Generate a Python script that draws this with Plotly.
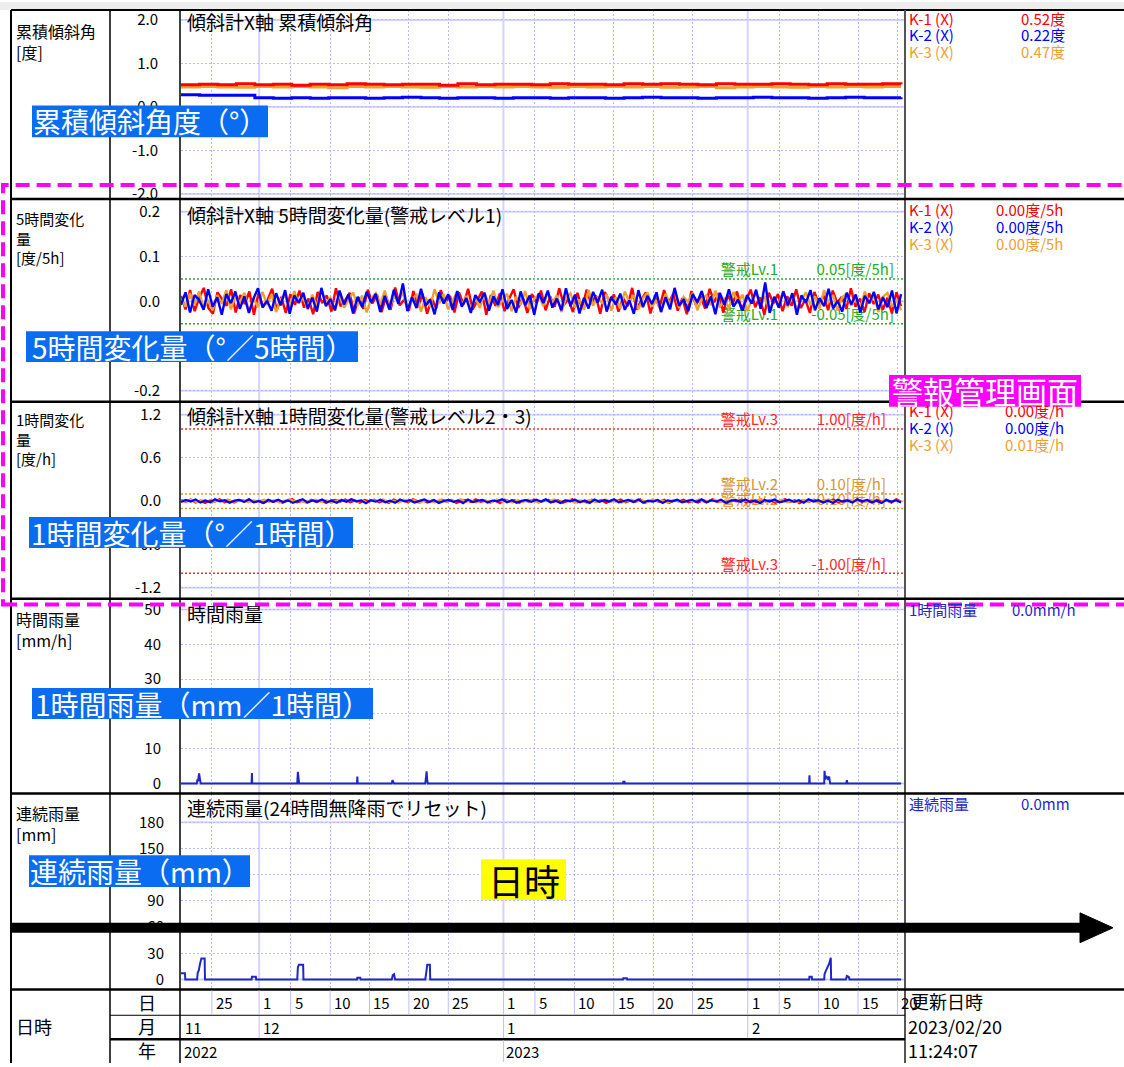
import numpy as np
import pandas as pd
import plotly.graph_objects as go

W, H = 1124, 1067
JP = "Noto Sans CJK JP"

# ---------------- data ----------------
x_range = ["2022-11-21 02:00", "2023-02-20 20:00"]
t_start = "2022-11-21 02:00"
t_end = "2023-02-20 11:00"

series_names = ["K-1 (X)", "K-2 (X)", "K-3 (X)"]
series_colors = ["#FF0000", "#0000FF", "#F0A030"]

# cumulative tilt [deg]
cum_k1 = [0.51, 0.52, 0.51, 0.53, 0.51, 0.52, 0.50, 0.52, 0.51, 0.53, 0.52, 0.51, 0.52, 0.52, 0.50, 0.53,
          0.51, 0.52, 0.52, 0.51, 0.53, 0.52, 0.52, 0.51, 0.53, 0.52, 0.53, 0.52, 0.51, 0.53, 0.52, 0.52,
          0.53, 0.52, 0.51, 0.53, 0.52, 0.52, 0.53, 0.52]
cum_k2 = [0.28, 0.27, 0.27, 0.27, 0.21, 0.20, 0.21, 0.20, 0.21, 0.21, 0.20, 0.21, 0.22, 0.21, 0.20, 0.21,
          0.21, 0.20, 0.21, 0.21, 0.20, 0.21, 0.21, 0.20, 0.21, 0.22, 0.21, 0.21, 0.20, 0.21, 0.21, 0.22,
          0.21, 0.21, 0.20, 0.21, 0.22, 0.21, 0.21, 0.22]
cum_k3 = [0.46, 0.47, 0.46, 0.45, 0.47, 0.46, 0.47, 0.46, 0.44, 0.47, 0.46, 0.47, 0.46, 0.45, 0.47, 0.46,
          0.47, 0.46, 0.47, 0.46, 0.45, 0.47, 0.46, 0.47, 0.46, 0.47, 0.45, 0.46, 0.47, 0.44, 0.46, 0.47,
          0.46, 0.45, 0.47, 0.46, 0.47, 0.46, 0.47, 0.47]
cum_now = [0.52, 0.22, 0.47]

# 5-hour change [0.001 deg]
chg5_k1 = [12, -18, 25, -22, 8, 30, -15, -28, 20, 5, -10, 27, -25, 14, -6, 22, -30, 18, -12, 3, 28, -20, 10, -26,
           16, -8, 24, -14, 6, -29, 21, -4, 13, -23, 29, -11, 2, 19, -27, 9, -17, 26, -5, 15, -24, 11, -19, 31,
           -9, 4, -21, 23, -13, 17, -28, 7, -16, 25, -2, 12, -25, 20, -7, 28, -18, 1, 22, -30, 14, -10, 18, -22,
           6, 27, -15, 9, -26, 16, -3, 24, -20, 11, -12, 29, -8, 5, -24, 19, -17, 26, -6, 13, -28, 21, -1, 15,
           -23, 8, -11, 30, -19, 3, 20, -27, 10, -14, 25, -4, 17, -21, 7, -29, 23, -9, 12, -16, 28, -2, 18, -25,
           14, -7, 22, -18, 2, 26, -13, 9, -30, 19, -5, 16, -22, 11, -10, 27, -15, 4, -26, 21, -8, 13, -20, 24,
           -3, 10, -17, 29, -12, 6, -24, 18, -6, 15, -19, 8, -27, 20, -11]
chg5_k2 = [-8, 20, -25, 14, 3, -19, 27, -12, 9, -30, 16, -4, 22, -17, 11, -26, 6, 29, -14, 1, -21, 18, -9, 25,
           -28, 13, -3, 19, -16, 8, -23, 30, -11, 5, -20, 24, -7, 15, -27, 10, -13, 21, -2, 17, -24, 12, -18, 26,
           -6, 40, -22, 9, -15, 28, -10, 4, -29, 20, -5, 16, -19, 23, -12, 7, -26, 14, -1, 19, -21, 11, -8, 27,
           -17, 3, -25, 22, -9, 13, -30, 18, -4, 24, -14, 6, -20, 29, -11, 15, -27, 8, -16, 21, -3, 26, -23, 10,
           -7, 17, -19, 2, -28, 25, -13, 12, -6, 20, -24, 9, -18, 30, -10, 5, -22, 16, -2, 23, -15, 11, -29, 19,
           -8, 27, -12, 4, -21, 14, -5, 26, -17, 42, -26, 10, -14, 22, -9, 18, -30, 13, -3, 25, -20, 7, -11, 28,
           -16, 1, -23, 19, -7, 15, -25, 12, -4, 21, -18, 9, -13, 24, -27, 16]
chg5_k3 = [5, -12, 18, -9, 22, -15, 3, -20, 14, -6, 25, -18, 10, -2, 19, -22, 7, -13, 21, -8, 16, -24, 4, 12,
           -17, 23, -5, 9, -19, 15, -11, 26, -3, 8, -21, 17, -14, 2, 20, -10, 13, -25, 6, 18, -7, 24, -16, 11,
           -1, 21, -19, 5, 14, -23, 9, -12, 27, -4, 16, -18, 3, 22, -9, 12, -20, 8, -15, 19, -6, 24, -13, 1,
           17, -22, 10, -8, 23, -17, 6, 15, -11, 20, -3, 13, -24, 7, 18, -14, 4, -19, 25, -10, 11, -5, 16, -21,
           9, -16, 22, -2, 14, -18, 6, 20, -12, 3, -23, 17, -7, 26, -15, 10, -1, 19, -20, 5, 13, -9, 24, -14,
           8, -17, 21, -4, 15, -22, 2, 18, -11, 12, -25, 7, -6, 23, -13, 16, -19, 4, 20, -8, 11, -16, 25, -3,
           14, -21, 9, 17, -10, 6, -18, 22, -5, 13, -24, 10, 19, -12, 3, -20]
chg5_now = [0.00, 0.00, 0.00]

# 1-hour change [0.001 deg]
chg1_k1 = [15, -10, 22, -18, 6, -25, 12, -4, 28, -15, 9, -20, 17, -7, 24, -12, 3, -27, 19, -9, 14, -22, 8, 26,
           -16, 2, -19, 21, -11, 13, -24, 7, 18, -6, 25, -14, 10, -21, 16, -3, 20, -17, 5, -26, 23, -8, 11, -15,
           27, -2, 14, -20, 9, -12, 22, -5, 17, -24, 4, 19, -13, 26, -9, 6, -18, 12, -28, 21, -1, 15, -23, 10,
           -7, 24, -16, 3, 18, -11, 13, -22, 8, 27, -14, 5, -19, 20, -6, 16, -25, 11, -3, 23, -17, 9, -10, 25,
           -21, 2, 14, -8, 19, -26, 12, -4, 22, -15, 7, -20, 17, -9, 28, -12, 4, -24, 15, -1, 21, -18, 10, -13,
           24, -6, 18, -22, 3, 26, -11, 13, -27, 8, -5, 20, -16, 11, -2, 23, -19, 6, 16, -10, 25, -14, 9, -23,
           19, -7, 12, -20, 27, -3]
chg1_k2 = [-12, 18, -6, 24, -20, 9, -15, 27, -3, 13, -22, 7, 19, -10, 25, -17, 4, -26, 16, -8, 21, -13, 11, -24,
           2, 28, -18, 10, -5, 23, -14, 6, -21, 17, -9, 26, -2, 12, -27, 15, -7, 20, -16, 8, -23, 22, -4, 14,
           -19, 5, 25, -11, 17, -25, 3, 19, -8, 11, -28, 24, -13, 6, 18, -20, 9, -1, 27, -15, 13, -22, 4, 16,
           -10, 21, -6, 26, -18, 7, -24, 12, -3, 20, -14, 10, -26, 23, -9, 15, -5, 28, -17, 2, 18, -12, 24, -21,
           8, -7, 16, -25, 11, -2, 22, -16, 5, 19, -11, 27, -19, 13, -4, 21, -23, 6, 14, -8, 25, -13, 9, -27,
           17, -6, 23, -15, 1, 20, -10, 12, -22, 26, -4, 15, -18, 8, -24, 19, -7, 11, -20, 24, -1, 16, -14, 6,
           -26, 21, -9, 13, -17]
chg1_k3 = [8, -5, 20, -14, 12, 3, -18, 16, -7, 24, -10, 6, 19, -16, 11, -2, 22, -12, 14, -20, 9, 25, -6, 17,
           -15, 4, 21, -9, 13, -22, 7, 18, -4, 26, -13, 10, -17, 15, 1, 23, -11, 8, -19, 20, -3, 14, -24, 12,
           5, -15, 22, -8, 16, -1, 27, -12, 9, -20, 18, 2, -14, 24, -6, 11, -18, 15, -9, 21, 3, -16, 13, -4,
           25, -11, 7, 19, -21, 10, -2, 17, -13, 6, 23, -9, 14, -19, 4, 20, -7, 12, -16, 26, -3, 9, -22, 18,
           1, -12, 15, -5, 24, -14, 8, 21, -10, 3, -17, 19, -6, 13, -20, 11, 27, -8, 16, -2, 22, -15, 5, -11,
           18, -4, 14, -23, 10, 25, -9, 7, -18, 20, -1, 12, -13, 17, 6, -21, 23, -7, 15, -10]
chg1_now = [0.00, 0.00, 0.01]

lv1 = 0.05
lv2 = 0.10
lv3 = 1.00

# hourly rainfall [mm/h]
rain_h_time = ["2022-11-21 02:00",
               "2022-11-23 02:00", "2022-11-23 04:00", "2022-11-23 06:00", "2022-11-23 09:00", "2022-11-23 12:00", "2022-11-23 14:00",
               "2022-11-30 01:00", "2022-11-30 02:00", "2022-11-30 03:00",
               "2022-12-05 20:00", "2022-12-05 22:00", "2022-12-06 00:00", "2022-12-06 02:00",
               "2022-12-13 10:00", "2022-12-13 11:00", "2022-12-13 12:00",
               "2022-12-17 20:00", "2022-12-17 22:00", "2022-12-18 01:00", "2022-12-18 03:00",
               "2022-12-22 02:00", "2022-12-22 04:00", "2022-12-22 06:00", "2022-12-22 08:00", "2022-12-22 10:00",
               "2023-01-16 04:00", "2023-01-16 05:00", "2023-01-16 09:00", "2023-01-16 10:00",
               "2023-02-08 19:00", "2023-02-08 20:00", "2023-02-08 21:00",
               "2023-02-10 17:00", "2023-02-10 18:00", "2023-02-10 20:00", "2023-02-10 23:00", "2023-02-11 04:00", "2023-02-11 08:00", "2023-02-11 11:00",
               "2023-02-13 12:00", "2023-02-13 14:00", "2023-02-13 16:00",
               "2023-02-20 11:00"]
rain_h_val = [0,
              0, 1.2, 0.6, 2.9, 1.0, 0,
              0, 3.0, 0,
              0, 3.4, 1.5, 0,
              0, 2.0, 0,
              0, 1.0, 0.4, 0,
              0, 1.5, 3.5, 0.8, 0,
              0, 0.5, 0.5, 0,
              0, 2.4, 0,
              0, 3.7, 1.2, 2.2, 1.4, 2.0, 0,
              0, 1.0, 0,
              0]
rain_h_now = 0.0

# continuous rainfall [mm]
rain_c_time = ["2022-11-21 02:00", "2022-11-21 14:00", "2022-11-21 15:00",
               "2022-11-23 03:00", "2022-11-23 05:00", "2022-11-23 08:00", "2022-11-23 12:00", "2022-11-23 16:00", "2022-11-24 02:00", "2022-11-24 03:00",
               "2022-11-30 01:00", "2022-11-30 02:00", "2022-11-30 14:00", "2022-11-30 15:00",
               "2022-12-05 20:00", "2022-12-05 22:00", "2022-12-06 01:00", "2022-12-06 14:00", "2022-12-06 15:00",
               "2022-12-13 10:00", "2022-12-13 11:00", "2022-12-13 20:00", "2022-12-13 21:00",
               "2022-12-17 20:00", "2022-12-17 23:00", "2022-12-18 03:00", "2022-12-18 06:00",
               "2022-12-22 02:00", "2022-12-22 05:00", "2022-12-22 08:00", "2022-12-22 16:00", "2022-12-22 17:00",
               "2023-01-16 04:00", "2023-01-16 05:00", "2023-01-16 16:00", "2023-01-16 17:00",
               "2023-02-08 19:00", "2023-02-08 20:00", "2023-02-09 03:00", "2023-02-09 04:00",
               "2023-02-10 17:00", "2023-02-10 18:00", "2023-02-10 21:00", "2023-02-11 08:00", "2023-02-11 13:00", "2023-02-11 14:00",
               "2023-02-13 11:00", "2023-02-13 14:00", "2023-02-13 20:00", "2023-02-13 22:00",
               "2023-02-20 11:00"]
rain_c_val = [7, 7, 0,
              0, 8, 10, 18, 24, 24, 0,
              0, 3, 3, 0,
              0, 14, 17, 17, 0,
              0, 2, 2, 0,
              0, 5, 6, 0,
              0, 8, 17, 17, 0,
              0, 1.5, 1.5, 0,
              0, 3, 3, 0,
              0, 6, 9, 18, 25, 0,
              0, 4, 3, 0,
              0]
rain_c_now = 0.0

# date axis labels
day_ticks = ["2022-11-25", "2022-12-01", "2022-12-05", "2022-12-10", "2022-12-15", "2022-12-20", "2022-12-25",
             "2023-01-01", "2023-01-05", "2023-01-10", "2023-01-15", "2023-01-20", "2023-01-25",
             "2023-02-01", "2023-02-05", "2023-02-10", "2023-02-15", "2023-02-20"]
day_labels = ["25", "1", "5", "10", "15", "20", "25", "1", "5", "10", "15", "20", "25", "1", "5", "10", "15", "20"]
month_starts = ["2022-12-01", "2023-01-01", "2023-02-01"]
month_label_pos = ["2022-11-21 02:00", "2022-12-01", "2023-01-01", "2023-02-01"]
month_labels = ["11", "12", "1", "2"]
year_label_pos = ["2022-11-21 02:00", "2023-01-01"]
year_labels = ["2022", "2023"]
update_date = "2023/02/20"
update_time = "11:24:07"

panel_titles = ["傾斜計X軸 累積傾斜角", "傾斜計X軸 5時間変化量(警戒レベル1)", "傾斜計X軸 1時間変化量(警戒レベル2・3)",
                "時間雨量", "連続雨量(24時間無降雨でリセット)"]
left_labels = ["累積傾斜角<br>[度]", "5時間変化<br>量<br>[度/5h]", "1時間変化<br>量<br>[度/h]", "時間雨量<br>[mm/h]", "連続雨量<br>[mm]"]
tick_vals = [[2, 1, 0, -1, -2], [0.2, 0.1, 0, -0.1, -0.2], [1.2, 0.6, 0, -0.6, -1.2],
             [50, 40, 30, 20, 10, 0], [180, 150, 120, 90, 60, 30, 0]]
tick_text = [["2.0", "1.0", "0.0", "-1.0", "-2.0"], ["0.2", "0.1", "0.0", "-0.1", "-0.2"],
             ["1.2", "0.6", "0.0", "-0.6", "-1.2"], ["50", "40", "30", "20", "10", "0"],
             ["180", "150", "120", "90", "60", "30", "0"]]
solid_vals = [[2, 0, -2], [0.2, 0, -0.2], [1.2, 0, -1.2], [50, 0], [180, 0]]

# ---------------- layout geometry (pixels) ----------------
PX_L, PX_R = 181, 904
panels = [(8, 198), (198, 402), (402, 600), (600, 796), (796, 993)]
calib = [(2.0, 18, -2.0, 193), (0.2, 211, -0.2, 391), (1.2, 415, -1.2, 589), (50, 611, 0, 786), (180, 825, 0, 983)]
standoff = [22, 20, 19, 19, 16]

GRID = "rgb(185,185,245)"
GRID_SOLID = "rgb(212,212,255)"
RAIN = "rgb(30,40,200)"
LV1C = "rgb(40,170,40)"
LV2C = "rgb(215,150,50)"
LV3C = "rgb(255,40,40)"
BLUEBOX = "#0A6CF0"


def fx(p):
    return p / W


def fy(p):
    return 1 - p / H


x0d = pd.Timestamp(x_range[0])
x1d = pd.Timestamp(x_range[1])


def px_date(p):
    return x0d + (p - PX_L) / (PX_R - PX_L) * (x1d - x0d)


fig = go.Figure()
layout = {}
for i in range(5):
    k = "" if i == 0 else str(i + 1)
    top, bot = panels[i]
    va, pa, vb, pb = calib[i]
    s = (va - vb) / (pb - pa)
    ymax = va + (pa - top) * s
    ymin = vb - (bot - pb) * s
    layout["xaxis" + k] = dict(domain=[fx(PX_L), fx(PX_R)], range=x_range, type="date", anchor="y" + k,
                               showticklabels=False, ticks="", showline=False, zeroline=False,
                               showgrid=True, gridcolor=GRID, griddash="2px,2px", gridwidth=1,
                               tickmode="array", tickvals=[d for d in day_ticks if d not in month_starts])
    layout["yaxis" + k] = dict(domain=[fy(bot), fy(top)], range=[ymin, ymax], anchor="x" + k,
                               tickmode="array", tickvals=tick_vals[i], ticktext=tick_text[i],
                               showgrid=True, gridcolor=GRID, griddash="2px,2px", gridwidth=1,
                               zeroline=False, showline=False, ticks="", ticklabelstandoff=standoff[i],
                               tickfont=dict(size=15, color="black", family=JP))

shapes = []
ann = []


def pline(x0, y0, x1, y1, w=2, color="black", layer="above", dash=None):
    d = dict(type="line", xref="paper", yref="paper", x0=fx(x0), y0=fy(y0), x1=fx(x1), y1=fy(y1),
             line=dict(color=color, width=w), layer=layer)
    if dash:
        d["line"]["dash"] = dash
    shapes.append(d)


def text(xp, yp, s, size=14, color="black", xanchor="left", yanchor="middle", family=JP):
    ann.append(dict(x=fx(xp), y=fy(yp), xref="paper", yref="paper", text=s, showarrow=False, align="left",
                    xanchor=xanchor, yanchor=yanchor, font=dict(size=size, color=color, family=family)))


# solid grid lines (month starts / main values)
for i in range(5):
    k = "" if i == 0 else str(i + 1)
    for m in month_starts:
        shapes.append(dict(type="line", xref="x" + k, yref="y" + k + " domain", x0=m, x1=m, y0=0, y1=1,
                           line=dict(color=GRID_SOLID, width=2), layer="below"))
    for v in solid_vals[i]:
        shapes.append(dict(type="line", xref="x" + k + " domain", yref="y" + k, x0=0, x1=1, y0=v, y1=v,
                           line=dict(color=GRID_SOLID, width=2), layer="below"))

# threshold lines
for yk, val, col in [("y2", lv1, LV1C), ("y2", -lv1, LV1C), ("y3", lv3, LV3C), ("y3", -lv3, LV3C),
                     ("y3", lv2, LV2C), ("y3", -lv2, LV2C)]:
    xk = "x" + yk[1:]
    shapes.append(dict(type="line", xref=xk + " domain", yref=yk, x0=0, x1=1, y0=val, y1=val,
                       line=dict(color=col, width=1.5, dash="2px,2px"), layer="below"))


# threshold labels (drawn beneath data)
def thr_label(xk, yk, val, name, unit, col):
    fig.add_trace(go.Scatter(x=[px_date(778), px_date(894 if unit == "度/5h" else 886)], y=[val, val],
                             mode="text", text=[name, f"{val:.2f}[{unit}]"], textposition="top left",
                             textfont=dict(color=col, size=15, family=JP), xaxis=xk, yaxis=yk,
                             showlegend=False, hoverinfo="skip", cliponaxis=False))


thr_label("x2", "y2", lv1, "警戒Lv.1", "度/5h", LV1C)
thr_label("x2", "y2", -lv1, "警戒Lv.1", "度/5h", LV1C)
thr_label("x3", "y3", lv3, "警戒Lv.3", "度/h", LV3C)
thr_label("x3", "y3", -lv3, "警戒Lv.3", "度/h", LV3C)
thr_label("x3", "y3", lv2, "警戒Lv.2", "度/h", LV2C)
thr_label("x3", "y3", -lv2, "警戒Lv.2", "度/h", LV2C)

# ---------------- data traces ----------------
for vals, col in zip([cum_k3, cum_k2, cum_k1], [series_colors[2], series_colors[1], series_colors[0]]):
    t = pd.date_range(t_start, t_end, periods=len(vals))
    fig.add_trace(go.Scatter(x=t, y=vals, mode="lines", line=dict(color=col, width=3, shape="hv"),
                             xaxis="x", yaxis="y", showlegend=False, hoverinfo="skip"))

for ax, lists, lw in [("2", [chg5_k1, chg5_k3, chg5_k2], 2.4), ("3", [chg1_k1, chg1_k3, chg1_k2], 2.2)]:
    for vals, col in zip(lists, [series_colors[0], series_colors[2], series_colors[1]]):
        t = pd.date_range(t_start, t_end, periods=len(vals))
        fig.add_trace(go.Scatter(x=t, y=np.array(vals) / 1000.0, mode="lines", line=dict(color=col, width=lw),
                                 xaxis="x" + ax, yaxis="y" + ax, showlegend=False, hoverinfo="skip"))

fig.add_trace(go.Scatter(x=pd.to_datetime(rain_h_time), y=rain_h_val, mode="lines", line=dict(color=RAIN, width=2),
                         xaxis="x4", yaxis="y4", showlegend=False, hoverinfo="skip"))
fig.add_trace(go.Scatter(x=pd.to_datetime(rain_c_time), y=rain_c_val, mode="lines", line=dict(color=RAIN, width=2),
                         xaxis="x5", yaxis="y5", showlegend=False, hoverinfo="skip"))

# ---------------- frame / table lines ----------------
shapes.append(dict(type="rect", xref="paper", yref="paper", x0=0, x1=1, y0=fy(8), y1=1,
                   fillcolor="#EEEEEE", line=dict(width=0), layer="below"))
pline(11, 8, 1124, 8, 2)
pline(11, 8, 11, 1067, 2)
pline(110, 8, 110, 1067, 1.5)
pline(180, 8, 180, 1067, 1.5)
pline(905, 8, 905, 1067, 2, color="#555555")
for _, b in panels:
    pline(11, b, 1124, b, 2.5)
pline(110, 1019, 905, 1019, 1)
pline(110, 1043, 905, 1043, 2.5)

# date rows vertical lines
for d in day_ticks:
    shapes.append(dict(type="line", xref="x5", yref="paper", x0=d, x1=d, y0=fy(1018), y1=fy(994),
                       line=dict(color="rgb(190,190,255)", width=1), layer="above"))
for d in month_starts:
    shapes.append(dict(type="line", xref="x5", yref="paper", x0=d, x1=d, y0=fy(1042), y1=fy(1020),
                       line=dict(color="rgb(190,190,255)", width=1), layer="above"))
shapes.append(dict(type="line", xref="x5", yref="paper", x0=year_label_pos[1], x1=year_label_pos[1],
                   y0=fy(1066), y1=fy(1044), line=dict(color="rgb(190,190,255)", width=1), layer="above"))

# ---------------- texts ----------------
title_y = [20, 214, 416, 615, 810]
for i in range(5):
    text(185, title_y[i], panel_titles[i], size=19)
left_y = [15, 205, 407, 606, 802]
left_size = [16, 15, 15, 16, 16]
for i in range(5):
    text(14, left_y[i], left_labels[i], size=left_size[i], yanchor="top")

# right side current values
rows = [[17, 33, 50], [209, 226, 243], [411, 428, 445]]
val_x = [1019, 994, 1003]
val_fmt = [(cum_now, "度"), (chg5_now, "度/5h"), (chg1_now, "度/h")]
for p in range(3):
    vals, unit = val_fmt[p]
    for j in range(3):
        text(907, rows[p][j], series_names[j], size=15, color=series_colors[j])
        text(val_x[p], rows[p][j], f"{vals[j]:.2f}{unit}", size=15, color=series_colors[j])
text(907, 611, "1時間雨量", size=15, color=RAIN)
text(1010, 611, f"{rain_h_now:.1f}mm/h", size=15, color=RAIN)
text(907, 806, "連続雨量", size=15, color=RAIN)
text(1019, 806, f"{rain_c_now:.1f}mm", size=15, color=RAIN)

# date section texts
for d, lab in zip(day_ticks, day_labels):
    ann.append(dict(x=d, y=fy(1006), xref="x5", yref="paper", text=lab, showarrow=False, xanchor="left",
                    yanchor="middle", xshift=2, font=dict(size=15, color="black", family=JP)))
for d, lab in zip(month_label_pos, month_labels):
    ann.append(dict(x=d, y=fy(1031), xref="x5", yref="paper", text=lab, showarrow=False, xanchor="left",
                    yanchor="middle", xshift=2, font=dict(size=15, color="black", family=JP)))
for d, lab in zip(year_label_pos, year_labels):
    ann.append(dict(x=d, y=fy(1055), xref="x5", yref="paper", text=lab, showarrow=False, xanchor="left",
                    yanchor="middle", xshift=1, font=dict(size=15, color="black", family=JP)))
text(147, 1006, "日", size=18, xanchor="center")
text(147, 1030, "月", size=18, xanchor="center")
text(147, 1054, "年", size=18, xanchor="center")
text(14, 1030, "日時", size=18)
text(909, 1005, "更新日時", size=18)
text(906, 1030, update_date, size=18)
text(906, 1054, update_time, size=18)

# ---------------- overlay annotations ----------------
# magenta dashed frame
shapes.append(dict(type="rect", xref="paper", yref="paper", x0=fx(3), x1=fx(1140), y0=fy(606), y1=fy(184),
                   line=dict(color="#FF00FF", width=4, dash="14px,7px"), layer="above"))
# arrow
pline(11, 931, 1085, 931, 10)
shapes.append(dict(type="path", xref="paper", yref="paper",
                   path=f"M {fx(1080)},{fy(916)} L {fx(1113)},{fy(931)} L {fx(1080)},{fy(946)} Z",
                   fillcolor="black", line=dict(color="black", width=1), layer="above"))

boxes = [("累積傾斜角度（°）", 32, 104, 268, 136, BLUEBOX, "white", 28),
         ("5時間変化量（°／5時間）", 26, 331, 358, 362, BLUEBOX, "white", 28),
         ("1時間変化量（°／1時間）", 29, 518, 353, 549, BLUEBOX, "white", 28),
         ("1時間雨量（mm／1時間）", 32, 690, 373, 721, BLUEBOX, "white", 28),
         ("連続雨量（mm）", 29, 858, 250, 890, BLUEBOX, "white", 28),
         ("警報管理画面", 889, 375, 1081, 407, "#FF00FF", "white", 31),
         ("日時", 481, 862, 566, 903, "#FFFF00", "black", 36)]
for s, x0, y0, x1, y1, bg, fc, fs in boxes:
    shapes.append(dict(type="rect", xref="paper", yref="paper", x0=fx(x0), x1=fx(x1), y0=fy(y1), y1=fy(y0),
                       fillcolor=bg, line=dict(width=0), layer="above"))
    text((x0 + x1) / 2, (y0 + y1) / 2, s, size=fs, color=fc, xanchor="center")

fig.update_layout(**layout)
fig.update_layout(width=W, height=H, margin=dict(l=0, r=0, t=0, b=0), paper_bgcolor="white",
                  plot_bgcolor="white", shapes=shapes, annotations=ann, showlegend=False,
                  font=dict(family=JP, color="black"))
fig.write_html("out.html", config={"displayModeBar": False},
               post_script="document.body.style.margin='0';document.body.style.padding='0';")
